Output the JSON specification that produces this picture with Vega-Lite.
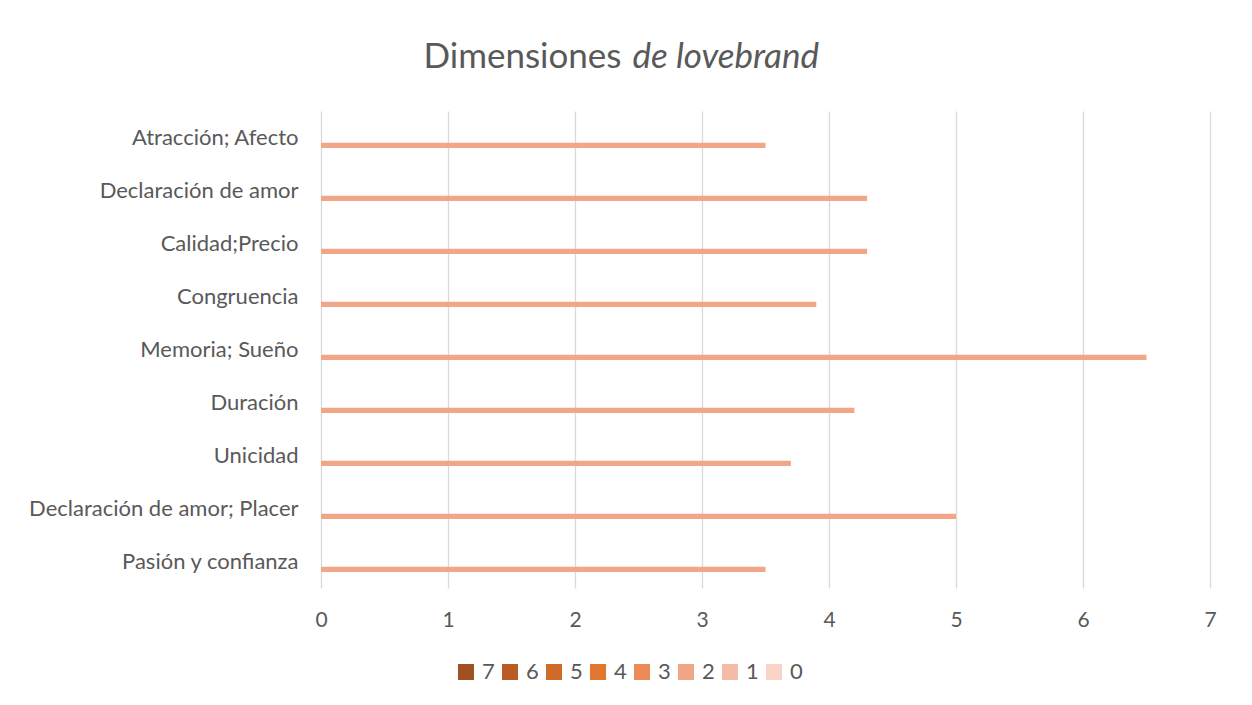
{
  "$schema": "https://vega.github.io/schema/vega-lite/v6.json",
  "autosize": {"type": "none"},
  "width": 889,
  "height": 477,
  "padding": {"left": 321, "top": 111, "right": 42, "bottom": 117},
  "background": "white",
  "config": {"view": {"stroke": null}, "font": "Lato"},
  "data": {
    "values": [
      {"dimension": "Atracción; Afecto", "serie": "2", "valor": 3.5},
      {"dimension": "Declaración de amor", "serie": "2", "valor": 4.3},
      {"dimension": "Calidad;Precio", "serie": "2", "valor": 4.3},
      {"dimension": "Congruencia", "serie": "2", "valor": 3.9},
      {"dimension": "Memoria; Sueño", "serie": "2", "valor": 6.5},
      {"dimension": "Duración", "serie": "2", "valor": 4.2},
      {"dimension": "Unicidad", "serie": "2", "valor": 3.7},
      {"dimension": "Declaración de amor; Placer", "serie": "2", "valor": 5.0},
      {"dimension": "Pasión y confianza", "serie": "2", "valor": 3.5}
    ]
  },
  "mark": {"type": "bar"},
  "encoding": {
    "y": {
      "field": "dimension",
      "type": "nominal",
      "sort": ["Atracción; Afecto", "Declaración de amor", "Calidad;Precio", "Congruencia", "Memoria; Sueño", "Duración", "Unicidad", "Declaración de amor; Placer", "Pasión y confianza"],
      "scale": {"paddingInner": 0, "paddingOuter": 0},
      "axis": {
        "title": "Dimensiones",
        "titleAngle": 0,
        "titleX": 300,
        "titleY": -44,
        "titleAlign": "right",
        "titleBaseline": "alphabetic",
        "titleFontSize": 35,
        "titleFontWeight": "normal",
        "titleColor": "#595959",
        "labelFontSize": 22,
        "labelColor": "#595959",
        "labelPadding": 23,
        "labelLimit": 400,
        "ticks": false,
        "domain": false
      }
    },
    "x": {
      "field": "valor",
      "type": "quantitative",
      "scale": {"domain": [0, 7], "nice": false},
      "axis": {
        "values": [0, 1, 2, 3, 4, 5, 6, 7],
        "grid": true,
        "gridColor": "#D9D9D9",
        "gridWidth": 1.3,
        "domain": false,
        "ticks": false,
        "labelFlush": false,
        "labelFontSize": 21,
        "labelColor": "#595959",
        "labelPadding": 21,
        "title": "de lovebrand",
        "titleFontStyle": "italic",
        "titleFontSize": 35,
        "titleFontWeight": "normal",
        "titleColor": "#595959",
        "titleX": 311,
        "titleY": -521,
        "titleAlign": "left",
        "titleBaseline": "alphabetic",
        "titleAngle": 0
      }
    },
    "yOffset": {
      "field": "serie",
      "type": "nominal",
      "scale": {"domain": ["7", "6", "5", "4", "3", "2", "1", "0"], "paddingInner": 0, "paddingOuter": 1.3}
    },
    "color": {
      "field": "serie",
      "type": "nominal",
      "scale": {
        "domain": ["7", "6", "5", "4", "3", "2", "1", "0"],
        "range": ["#A0511F", "#B95C24", "#CF6A29", "#E4772F", "#EC8B59", "#F2A688", "#F4BCA8", "#F8D4C7"]
      },
      "legend": {
        "orient": "none",
        "legendX": 134,
        "legendY": 550,
        "direction": "horizontal",
        "title": null,
        "padding": 0,
        "symbolType": "square",
        "symbolSize": 256,
        "symbolStrokeWidth": 0,
        "symbolOpacity": 1,
        "labelFontSize": 22,
        "labelColor": "#595959",
        "labelOffset": 5,
        "columnPadding": 4
      }
    }
  }
}
